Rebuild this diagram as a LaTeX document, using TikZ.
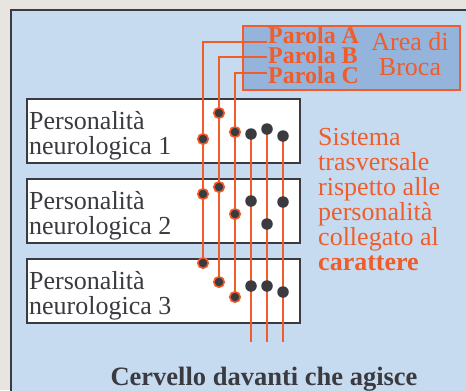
\documentclass[tikz,border=0pt]{standalone}
\usepackage{fontspec}
\setmainfont{Liberation Serif}
\definecolor{bgout}{RGB}{232,228,224}
\definecolor{panel}{RGB}{198,219,239}
\definecolor{broca}{RGB}{148,180,220}
\definecolor{org}{RGB}{240,92,42}
\definecolor{dk}{RGB}{58,58,64}
\tikzset{
  pbox/.style={draw=dk, line width=2bp, fill=white, anchor=north west, minimum width=273bp, minimum height=64bp, inner sep=0pt},
  ptext/.style={anchor=base west, inner sep=0pt, text=dk, font=\fontsize{26bp}{26bp}\selectfont},
  otext/.style={anchor=base west, inner sep=0pt, text=org, font=\fontsize{26bp}{26bp}\selectfont},
  parola/.style={anchor=base west, inner sep=0pt, text depth=0pt, text=org, font=\bfseries\fontsize{24bp}{24bp}\selectfont},
  oline/.style={draw=org, line width=2bp},
  syn/.style={circle, fill=dk, draw=org, line width=1.6bp, minimum size=10.5bp, inner sep=0pt},
  bdot/.style={circle, fill=dk, minimum size=11.5bp, inner sep=0pt},
}
\begin{document}
\begin{tikzpicture}[x=1bp,y=-1bp]
\fill[bgout] (0,0) rectangle (466,390);
\useasboundingbox (0,0) rectangle (466,390);
\fill[panel] (11,9.5) rectangle (467,391);
\draw[dk, line width=2bp] (11,391) -- (11,9.5) -- (467,9.5);

% Broca area
\node[draw=org, line width=2bp, fill=broca, anchor=north west, minimum width=217bp, minimum height=64bp, inner sep=0pt] (broca) at (242,25) {};
\node[parola] (pa) at (268,43) {Parola A};
\node[parola] (pb) at (268,63) {Parola B};
\node[parola] (pc) at (268,83) {Parola C};
\node[otext, anchor=base] (area1) at (410,50) {Area di};
\node[otext, anchor=base] (area2) at (410,75) {Broca};

% personality boxes
\node[pbox] (p1) at (26,98) {};
\node[pbox] (p2) at (26,178) {};
\node[pbox] (p3) at (26,258) {};
\node[ptext] (t1a) at (29,129) {Personalità};
\node[ptext] (t1b) at (29,154) {neurologica 1};
\node[ptext] (t2a) at (29,209) {Personalità};
\node[ptext] (t2b) at (29,234) {neurologica 2};
\node[ptext] (t3a) at (29,289) {Personalità};
\node[ptext] (t3b) at (29,314) {neurologica 3};

% right text
\node[otext] (s1) at (318,145) {Sistema};
\node[otext] (s2) at (318,170) {trasversale};
\node[otext] (s3) at (318,195) {rispetto alle};
\node[otext] (s4) at (318,220) {personalità};
\node[otext] (s5) at (318,245) {collegato al};
\node[otext, font=\bfseries\fontsize{26bp}{26bp}\selectfont] (s6) at (318,270) {carattere};

% bottom text
\node[anchor=base, inner sep=0pt, text=dk, font=\bfseries\fontsize{26.5bp}{26.5bp}\selectfont] (cerv) at (264,385) {Cervello davanti che agisce};

% connector ends
\coordinate (ca) at (267,42);
\coordinate (cb) at (267,57);
\coordinate (cc) at (267,73);
\coordinate (de) at (251,342);
\coordinate (ee) at (267,342);
\coordinate (fe) at (283,342);

% dot positions
\path
  (203,139) coordinate (a1) (203,194) coordinate (a2) (203,263) coordinate (a3)
  (219,113) coordinate (b1) (219,187) coordinate (b2) (219,282) coordinate (b3)
  (235,132) coordinate (c1) (235,214) coordinate (c2) (235,297) coordinate (c3)
  (251,134) coordinate (d1) (251,201) coordinate (d2) (251,286) coordinate (d3)
  (267,129) coordinate (e1) (267,224) coordinate (e2) (267,286) coordinate (e3)
  (283,136) coordinate (f1) (283,202) coordinate (f2) (283,292) coordinate (f3);

\draw[oline] (ca) -| (a3);
\draw[oline] (cb) -| (b3);
\draw[oline] (cc) -| (c3);
\draw[oline] (d1) -- (de);
\draw[oline] (e1) -- (ee);
\draw[oline] (f1) -- (fe);

\foreach \n in {a1,a2,a3,b1,b2,b3,c1,c2,c3}{\node[syn] (s\n) at (\n) {};}
\foreach \n in {d1,d2,d3,e1,e2,e3,f1,f2,f3}{\node[bdot] (s\n) at (\n) {};}
\end{tikzpicture}
\end{document}
